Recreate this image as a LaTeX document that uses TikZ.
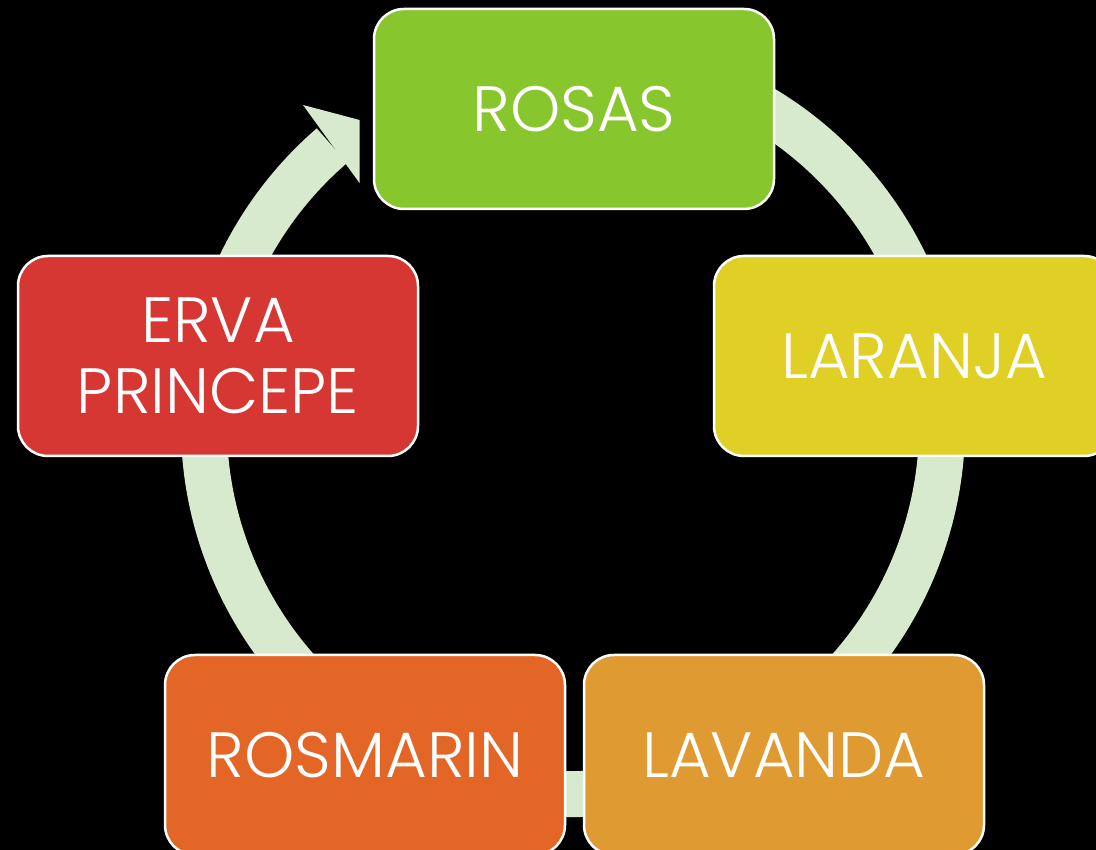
\documentclass[tikz,border=0pt]{standalone}
\usepackage{fontspec}
\setmainfont{Poppins}[UprightFont=* Light]
\usetikzlibrary{positioning}
\definecolor{ringgreen}{RGB}{216,234,206}
\definecolor{rosas}{RGB}{136,198,46}
\definecolor{laranja}{RGB}{224,208,38}
\definecolor{lavanda}{RGB}{224,154,50}
\definecolor{rosmarin}{RGB}{228,102,39}
\definecolor{erva}{RGB}{214,55,50}
\begin{document}
\begin{tikzpicture}[x=1pt, y=1pt]
\tikzstyle{petal}=[rectangle, rounded corners=30pt, minimum width=400pt, minimum height=200pt, draw=white, line width=2.5pt, text=white, align=center, font=\fontsize{64}{71}\selectfont]
\tikzstyle{ring}=[draw=ringgreen, line width=46pt]
    \fill[black] (0,0) rectangle (1096,850);
    \useasboundingbox (0,0) rectangle (1096,850);
    \coordinate (C) at (573,425);
    % cycle ring with the head into ROSAS
    \draw[ring] (C) ++(70:369) arc[start angle=70, end angle=-229.2, radius=369];
    \coordinate (H1) at (303,745);
    \coordinate (H2) at (359.5,730);
    \coordinate (H3) at (359.5,667);
    \fill[ringgreen] (H1) -- (H2) -- (H3) -- cycle;
    \node[petal, fill=rosas] (R) at (574,741) {ROSAS};
    \node[petal, fill=laranja] (L) at (914,494) {LARANJA};
    \node[petal, fill=lavanda] (V) at (784,95) {LAVANDA};
    \node[petal, fill=rosmarin] (M) at (365,95) {ROSMARIN};
    \node[petal, fill=erva] (E) at (218,494) {ERVA\\PRINCEPE};
\end{tikzpicture}
\end{document}
